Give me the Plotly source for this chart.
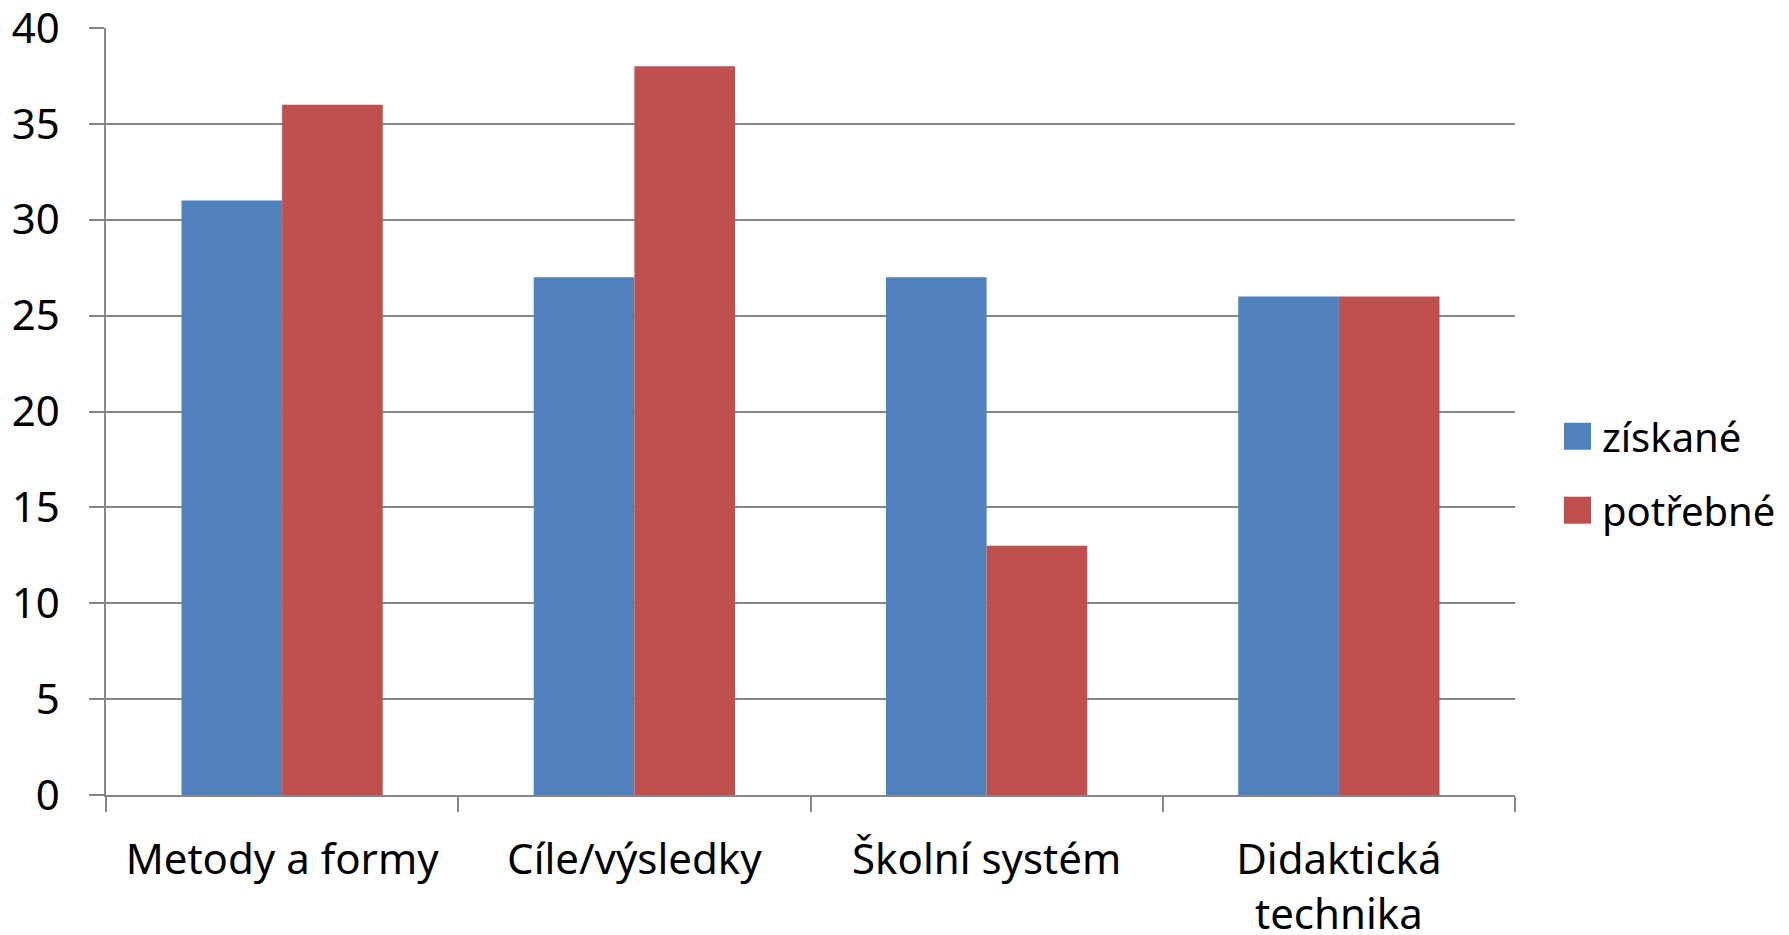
import plotly.graph_objects as go

categories = ["Metody a formy", "Cíle/výsledky", "Školní systém", "Didaktická<br>technika"]
series_names = ["získané", "potřebné"]
ziskane = [31, 27, 27, 26]
potrebne = [36, 38, 13, 26]
y_ticks = [0, 5, 10, 15, 20, 25, 30, 35, 40]

colors = ["#4F81BD", "#C0504D"]
FONT = "Noto Sans"
FS = 42
LFS = 40
GRID = "#868686"

# the page body has an 8px margin; figure placed so plot area lands at window px
OFF = 8
FW, FH = 1781, 927
L, T = 106 - OFF, 28 - OFF
R = FW - (1515 - OFF)
B = FH - (795.5 - OFF)
W = FW - L - R
H = FH - T - B

fig = go.Figure()
for name, vals, col in zip(series_names, [ziskane, potrebne], colors):
    fig.add_trace(go.Bar(x=categories, y=vals, name=name, marker_color=col,
                         marker_line_width=0, showlegend=False))


def px(x):
    return (x - OFF - L) / W


def py(y):
    return (FH - B - (y - OFF)) / H


shapes = []
annotations = []
legend_rows = [(423, 450), (497, 524)]
for (y0, y1), name, col in zip(legend_rows, series_names, colors):
    shapes.append(dict(type="rect", xref="paper", yref="paper",
                       x0=px(1564), x1=px(1591), y0=py(y1), y1=py(y0),
                       fillcolor=col, line_width=0))
    annotations.append(dict(xref="paper", yref="paper", x=px(1600), y=py((y0 + y1) / 2),
                            text=name, showarrow=False, xanchor="left", yanchor="middle",
                            font=dict(family=FONT, size=LFS, color="#000000")))

fig.update_layout(
    template="none",
    width=FW, height=FH,
    margin=dict(l=L, r=R, t=T, b=B, pad=0),
    paper_bgcolor="white", plot_bgcolor="white",
    barmode="group", bargap=0.4286, bargroupgap=0,
    font=dict(family=FONT, size=FS, color="#000000"),
    shapes=shapes, annotations=annotations,
    xaxis=dict(automargin=False, showgrid=False, showline=True, linecolor=GRID, linewidth=1.5,
               ticks="outside", tickson="boundaries", ticklen=15, tickcolor=GRID,
               tickwidth=1.5, tickfont=dict(family=FONT, size=FS), ticklabelstandoff=27,
               ticklabeloverflow="allow"),
    yaxis=dict(automargin=False, range=[0, 40], tickvals=y_ticks, showgrid=True,
               gridcolor=GRID, gridwidth=1.5,
               showline=True, linecolor=GRID, linewidth=1.5, zeroline=False,
               ticks="outside", ticklen=15, tickcolor=GRID, tickwidth=1.5,
               tickfont=dict(family=FONT, size=FS), ticklabelstandoff=21,
               ticklabeloverflow="allow"),
)

fig.write_html("out.html")
